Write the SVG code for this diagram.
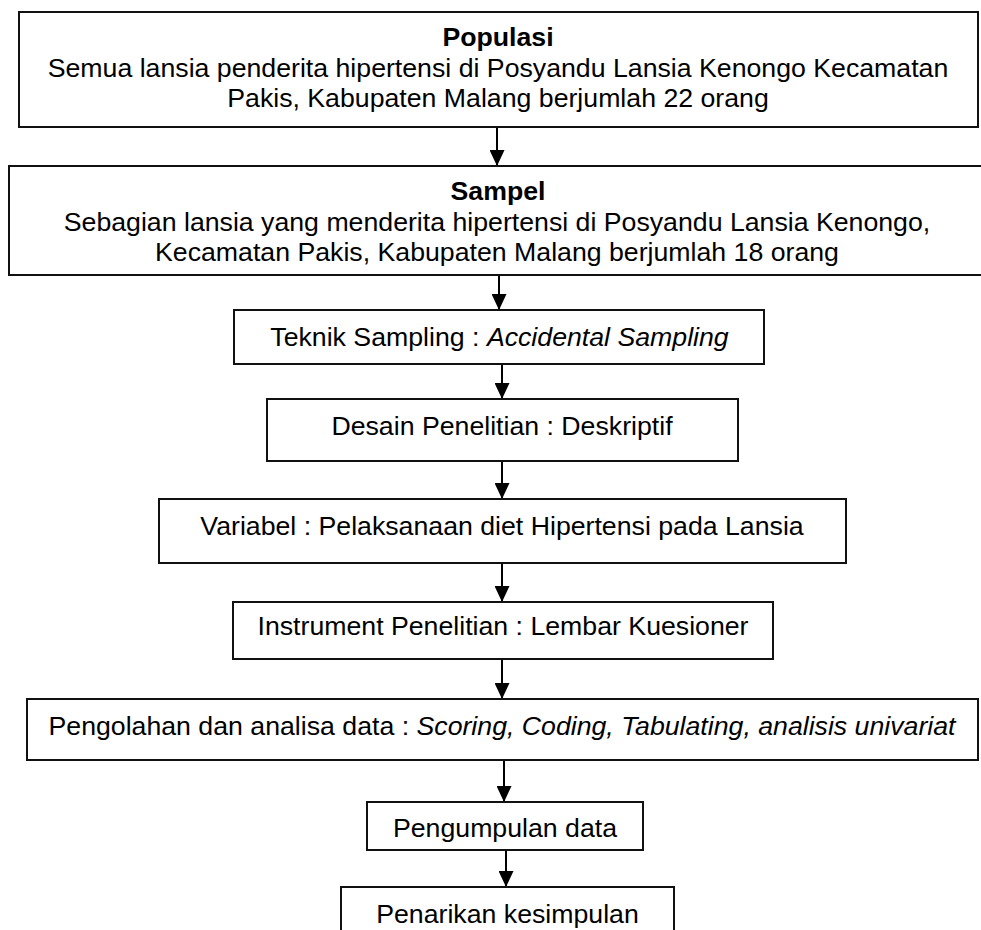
<svg xmlns="http://www.w3.org/2000/svg" width="981" height="930" viewBox="0 0 981 930">
<style>
.box{fill:#fff;stroke:#111;stroke-width:2}
.t{font-family:"Liberation Sans",Arial,sans-serif;font-size:26.7px;fill:#000;text-anchor:middle}
.b{font-weight:bold}
.i{font-style:italic}
.c{stroke:#000;stroke-width:2;fill:none}
</style>
<defs>
<marker id="ah" markerUnits="userSpaceOnUse" viewBox="0 0 16 15" refX="16" refY="7.5" markerWidth="16" markerHeight="15" orient="auto">
<path d="M0,0 L16,7.5 L0,15 z" fill="#000"/>
</marker>
</defs>
<rect width="981" height="930" fill="#fff"/>
<g id="connectors">
<line class="c" x1="497" y1="127" x2="497" y2="166" marker-end="url(#ah)"/>
<line class="c" x1="499" y1="275" x2="499" y2="310" marker-end="url(#ah)"/>
<line class="c" x1="502" y1="364" x2="502" y2="399" marker-end="url(#ah)"/>
<line class="c" x1="502" y1="461" x2="502" y2="499" marker-end="url(#ah)"/>
<line class="c" x1="502" y1="563" x2="502" y2="602" marker-end="url(#ah)"/>
<line class="c" x1="502" y1="659" x2="502" y2="699" marker-end="url(#ah)"/>
<line class="c" x1="504" y1="760" x2="504" y2="802" marker-end="url(#ah)"/>
<line class="c" x1="506" y1="850" x2="506" y2="887" marker-end="url(#ah)"/>
</g>
<g id="populasi">
<rect class="box" x="19" y="12" width="959" height="115"/>
<text class="t b" x="498" y="46">Populasi</text>
<text class="t" x="498" y="77">Semua lansia penderita hipertensi di Posyandu Lansia Kenongo Kecamatan</text>
<text class="t" x="498" y="107">Pakis, Kabupaten Malang berjumlah 22 orang</text>
</g>
<g id="sampel">
<rect class="box" x="9" y="166" width="990" height="109"/>
<text class="t b" x="498" y="200">Sampel</text>
<text class="t" x="497" y="231">Sebagian lansia yang menderita hipertensi di Posyandu Lansia Kenongo,</text>
<text class="t" x="497" y="261">Kecamatan Pakis, Kabupaten Malang berjumlah 18 orang</text>
</g>
<g id="teknik">
<rect class="box" x="234" y="310" width="530" height="54"/>
<text class="t" x="499.5" y="346">Teknik Sampling : <tspan class="i">Accidental Sampling</tspan></text>
</g>
<g id="desain">
<rect class="box" x="267" y="399" width="471" height="62"/>
<text class="t" x="502" y="435">Desain Penelitian : Deskriptif</text>
</g>
<g id="variabel">
<rect class="box" x="159" y="499" width="687" height="64"/>
<text class="t" x="502" y="535">Variabel : Pelaksanaan diet Hipertensi pada Lansia</text>
</g>
<g id="instrument">
<rect class="box" x="233" y="602" width="540" height="57"/>
<text class="t" x="503" y="635">Instrument Penelitian : Lembar Kuesioner</text>
</g>
<g id="pengolahan">
<rect class="box" x="27" y="699" width="951" height="61"/>
<text class="t" x="502" y="735">Pengolahan dan analisa data : <tspan class="i">Scoring, Coding, Tabulating, analisis univariat</tspan></text>
</g>
<g id="pengumpulan">
<rect class="box" x="367" y="802" width="276" height="48"/>
<text class="t" x="505" y="837">Pengumpulan data</text>
</g>
<g id="penarikan">
<rect class="box" x="341" y="887" width="333" height="60"/>
<text class="t" x="507.5" y="923">Penarikan kesimpulan</text>
</g>
</svg>
